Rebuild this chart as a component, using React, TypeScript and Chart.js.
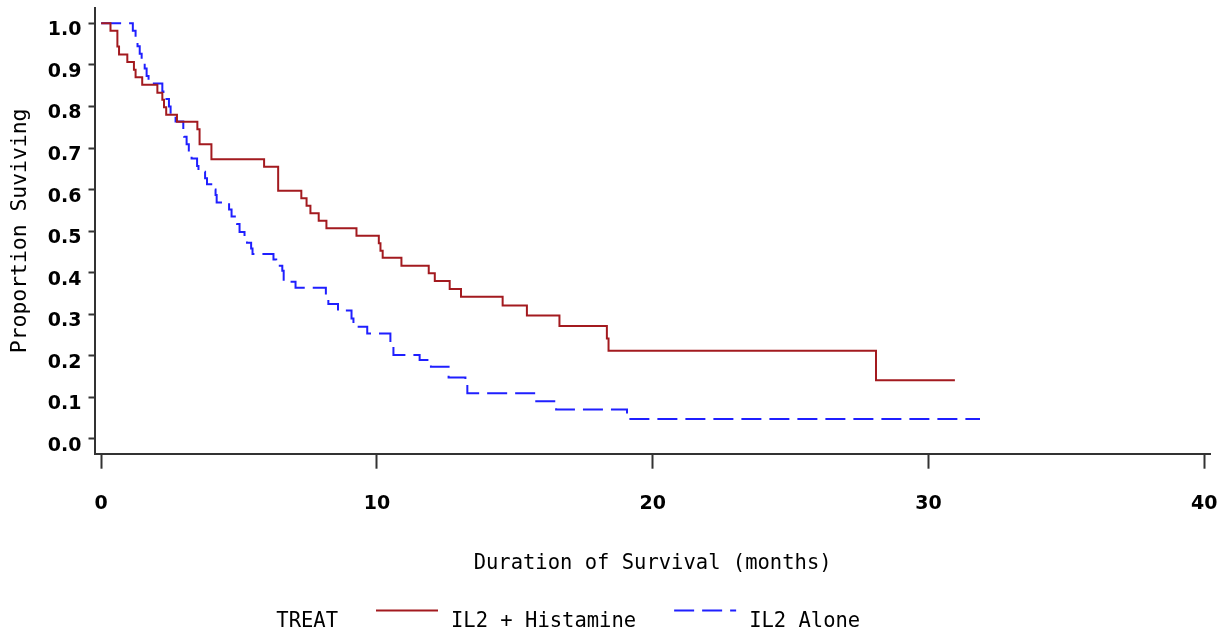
import React, { useEffect, useRef } from 'react';
import { Chart, registerables } from 'chart.js';

Chart.register(...registerables);

// ---- data ----
const redLabel = 'IL2 + Histamine';
const redTimes = [0, 0.34, 0.59, 0.65, 0.95, 1.19, 1.25, 1.49, 2.04, 2.22, 2.28, 2.36, 2.75, 3.49, 3.57, 4.0, 5.91, 6.42, 7.26, 7.45, 7.59, 7.89, 8.17, 9.26, 10.07, 10.13, 10.21, 10.89, 11.88, 12.1, 12.64, 13.05, 14.56, 15.44, 16.62, 18.34, 18.4, 28.1, 30.96];
const redSurv = [1, 0.982, 0.944, 0.925, 0.907, 0.888, 0.87, 0.852, 0.833, 0.816, 0.798, 0.78, 0.763, 0.745, 0.709, 0.673, 0.655, 0.597, 0.579, 0.561, 0.543, 0.525, 0.507, 0.489, 0.471, 0.453, 0.436, 0.417, 0.399, 0.38, 0.361, 0.342, 0.321, 0.297, 0.272, 0.242, 0.212, 0.141, 0.141];

const blueLabel = 'IL2 Alone';
const blueTimes = [0, 1.15, 1.25, 1.32, 1.4, 1.47, 1.58, 1.65, 1.72, 2.22, 2.26, 2.46, 2.52, 2.7, 2.98, 3.01, 3.1, 3.18, 3.28, 3.48, 3.53, 3.77, 3.84, 4.08, 4.15, 4.19, 4.64, 4.73, 4.93, 5.02, 5.2, 5.29, 5.44, 5.49, 6.25, 6.35, 6.57, 6.62, 7.05, 8.15, 8.24, 8.59, 9.08, 9.15, 9.65, 10.49, 10.6, 11.55, 11.96, 12.6, 13.21, 13.28, 15.74, 16.5, 19.07, 31.87];
const blueSurv = [1, 0.982, 0.964, 0.945, 0.927, 0.909, 0.891, 0.873, 0.855, 0.836, 0.818, 0.8, 0.782, 0.764, 0.745, 0.727, 0.709, 0.691, 0.675, 0.657, 0.643, 0.627, 0.613, 0.6, 0.587, 0.569, 0.552, 0.535, 0.517, 0.498, 0.485, 0.472, 0.458, 0.445, 0.432, 0.417, 0.405, 0.378, 0.364, 0.346, 0.325, 0.309, 0.29, 0.27, 0.254, 0.23, 0.202, 0.19, 0.174, 0.148, 0.13, 0.11, 0.091, 0.071, 0.048, 0.048];

const xTicks = [0, 10, 20, 30, 40];
const yTicks = [0, 0.1, 0.2, 0.3, 0.4, 0.5, 0.6, 0.7, 0.8, 0.9, 1.0];
const xTitle = 'Duration of Survival (months)';
const yTitle = 'Proportion Suviving';
const legendTitle = 'TREAT';

const toPoints = (t: number[], s: number[]) => t.map((v, i) => ({ x: v, y: s[i] }));

const MONO = '"DejaVu Sans Mono", "Liberation Mono", monospace';

const legendPlugin = {
  id: 'sasLegend',
  afterDraw(chart: any) {
    const ctx = chart.ctx as CanvasRenderingContext2D;
    ctx.save();
    ctx.font = `20.5px ${MONO}`;
    ctx.fillStyle = '#000';
    ctx.textBaseline = 'alphabetic';
    const textY = 627;
    const lineY = 610.5;
    ctx.textAlign = 'right';
    ctx.fillText(legendTitle, 338, textY);
    let x = 376;
    chart.data.datasets.forEach((ds: any) => {
      ctx.strokeStyle = ds.borderColor;
      ctx.lineWidth = ds.borderWidth;
      ctx.setLineDash(ds.borderDash || []);
      ctx.beginPath();
      ctx.moveTo(x, lineY);
      ctx.lineTo(x + 62, lineY);
      ctx.stroke();
      ctx.setLineDash([]);
      ctx.textAlign = 'left';
      ctx.fillText(ds.label, x + 75, textY);
      x += 75 + ctx.measureText(ds.label).width + 38;
    });
    ctx.restore();
  },
};

export default function App() {
  const ref = useRef<HTMLCanvasElement>(null);
  useEffect(() => {
    if (!ref.current) return;
    const axisColor = '#333333';
    const tickFont = { family: '"DejaVu Sans"', size: 19, weight: 'bold' as const };
    const chart = new Chart(ref.current, {
      type: 'line',
      data: {
        datasets: [
          {
            label: redLabel,
            data: toPoints(redTimes, redSurv),
            borderColor: '#a31a1f',
            borderWidth: 2,
            stepped: true,
            pointRadius: 0,
            fill: false,
          },
          {
            label: blueLabel,
            data: toPoints(blueTimes, blueSurv),
            borderColor: '#1f1fff',
            borderWidth: 2,
            borderDash: [20, 8],
            stepped: true,
            pointRadius: 0,
            fill: false,
          },
        ],
      },
      options: {
        responsive: false,
        animation: false,
        layout: { padding: { top: 8, left: 0, right: 17.3, bottom: 60 } },
        plugins: {
          legend: { display: false },
          tooltip: { enabled: false },
        },
        scales: {
          x: {
            type: 'linear',
            min: -0.24,
            max: 40.236,
            afterBuildTicks: (scale: any) => {
              scale.ticks = xTicks.map((v) => ({ value: v }));
            },
            afterFit: (scale: any) => {
              scale.height = 117.3;
              scale.paddingLeft = 0;
              scale.paddingRight = 0;
            },
            grid: {
              display: true,
              drawOnChartArea: false,
              drawTicks: true,
              tickLength: 15,
              tickColor: axisColor,
              tickWidth: 2,
              color: axisColor,
            },
            border: { display: true, color: axisColor, width: 2 },
            ticks: {
              padding: 24,
              color: '#000',
              font: tickFont,
              callback: (v: any) => String(v),
              maxRotation: 0,
            },
            title: {
              display: true,
              text: xTitle,
              color: '#000',
              font: { family: MONO, size: 20.5 },
              padding: { top: 0, bottom: -5 },
            },
          },
          y: {
            type: 'linear',
            min: -0.0354,
            max: 1.0368,
            afterBuildTicks: (scale: any) => {
              scale.ticks = yTicks.map((v) => ({ value: v }));
            },
            afterFit: (scale: any) => {
              scale.width = 94.5;
              scale.paddingTop = 0;
              scale.paddingBottom = 0;
            },
            grid: {
              display: true,
              drawOnChartArea: false,
              drawTicks: true,
              tickLength: 6,
              tickColor: axisColor,
              tickWidth: 2,
              color: axisColor,
            },
            border: { display: true, color: axisColor, width: 2 },
            ticks: {
              padding: 7,
              labelOffset: 7,
              color: '#000',
              font: tickFont,
              callback: (v: any) => Number(v).toFixed(1),
            },
            title: {
              display: true,
              text: yTitle,
              color: '#000',
              font: { family: MONO, size: 21.4 },
              padding: { top: 8, bottom: 0 },
            },
          },
        },
      },
      plugins: [legendPlugin],
    });
    return () => chart.destroy();
  }, []);

  return (
    <div style={{ position: 'absolute', left: 0, top: 0, width: 1228, height: 631, background: '#fff' }}>
      <canvas ref={ref} width={1228} height={631} style={{ display: 'block' }} />
    </div>
  );
}
